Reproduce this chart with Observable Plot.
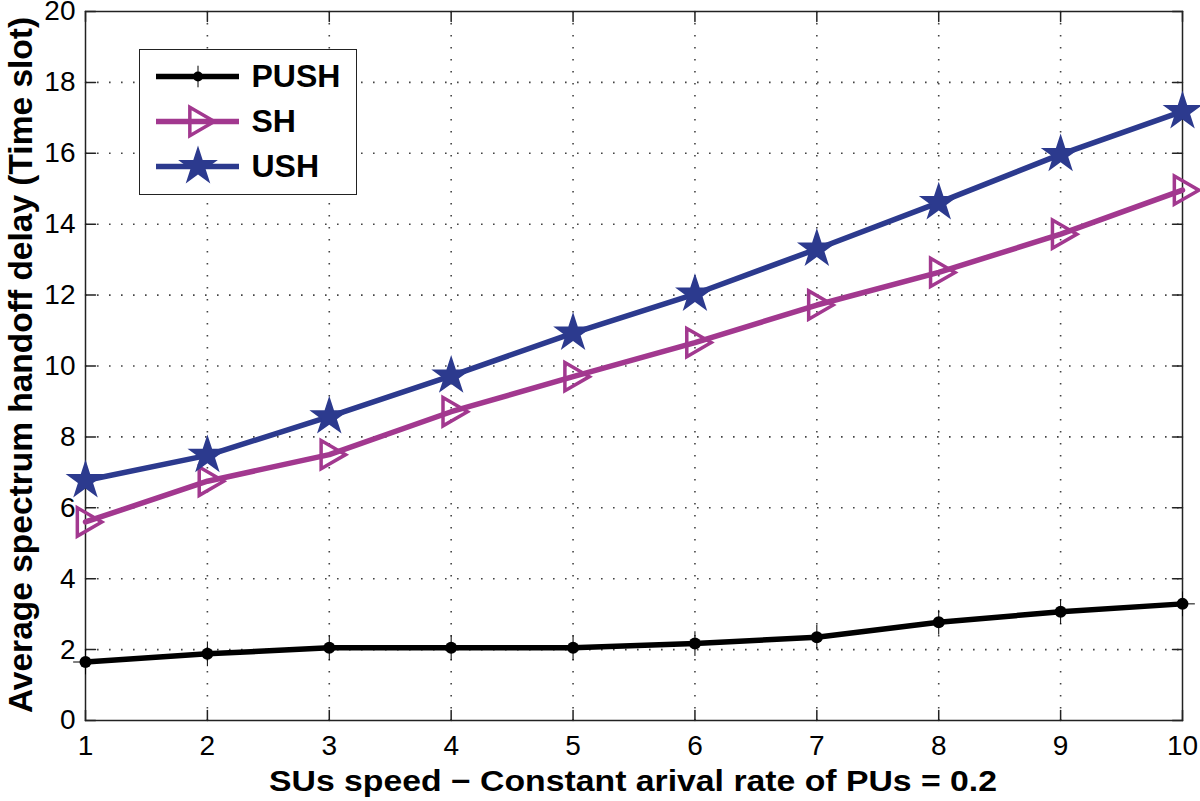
<!DOCTYPE html>
<html><head><meta charset="utf-8">
<script src="https://cdn.jsdelivr.net/npm/d3@7"></script>
<script src="https://cdn.jsdelivr.net/npm/@observablehq/plot@0.6"></script>
<style>
html,body{margin:0;padding:0;background:#fff;}
#wrap{position:relative;width:1200px;height:801px;overflow:hidden;}
#legend{position:absolute;left:139px;top:49px;}
#legend svg{border:1.5px solid #222;background:#fff;display:block;overflow:visible;}
</style></head><body>
<div id="wrap"><div id="chart"></div><div id="legend"></div></div>
<script>
// ---- data ----
const speeds = [1, 2, 3, 4, 5, 6, 7, 8, 9, 10];
const pushDelay = [1.65, 1.88, 2.05, 2.05, 2.05, 2.17, 2.35, 2.77, 3.07, 3.29];
const shDelay   = [5.60, 6.75, 7.50, 8.71, 9.70, 10.66, 11.72, 12.64, 13.72, 14.96];
const ushDelay  = [6.77, 7.48, 8.57, 9.72, 10.93, 12.03, 13.30, 14.61, 15.97, 17.18];
const seriesNames = ["PUSH", "SH", "USH"];
const seriesColors = ["#000000", "#a2388f", "#2c3a8e"];
const xTicks = [1, 2, 3, 4, 5, 6, 7, 8, 9, 10];
const yTicks = [0, 2, 4, 6, 8, 10, 12, 14, 16, 18, 20];
const xLabel = "SUs speed \u2212 Constant arival rate of PUs = 0.2";
const yLabel = "Average spectrum handoff delay (Time slot)";

// ---- tables ----
const valuesBySeries = {PUSH: pushDelay, SH: shDelay, USH: ushDelay};
const rows = seriesNames.flatMap(s => speeds.map((x, i) => ({series: s, x, y: valuesBySeries[s][i]})));
const pushRows = rows.filter(d => d.series === "PUSH");
const shRows = rows.filter(d => d.series === "SH");
const ushRows = rows.filter(d => d.series === "USH");

const font = "'Liberation Sans', Arial, Helvetica, sans-serif";
const tickShape = {draw(ctx, l) { ctx.moveTo(0, 0); ctx.lineTo(0, -l); }};
const tickStyle = {length: 10, anchor: "start", shape: tickShape, stroke: "#222", strokeWidth: 1.5};
const gridStyle = {stroke: "#444", strokeOpacity: 1, strokeWidth: 1.6, strokeDasharray: "1.6,10.4"};
const lineW = 5.5;

const chart = Plot.plot({
  width: 1200, height: 801,
  marginLeft: 85, marginRight: 18, marginTop: 11, marginBottom: 81,
  style: {fontFamily: font, fontSize: "28px", background: "#fff", color: "#000", overflow: "visible"},
  x: {domain: [1, 10]},
  y: {domain: [0, 20]},
  color: {domain: seriesNames, range: seriesColors},
  marks: [
    Plot.gridX(xTicks.slice(1, -1), gridStyle),
    Plot.gridY(yTicks.slice(1, -1), gridStyle),
    Plot.axisX(xTicks, {tickSize: 0, tickPadding: 15, fontSize: 28, label: null, tickFormat: d => String(d)}),
    Plot.axisY(yTicks, {tickSize: 0, tickPadding: 10, fontSize: 28, label: null, tickFormat: d => String(d)}),
    Plot.vector(xTicks, {x: d => d, frameAnchor: "bottom", rotate: 0, ...tickStyle}),
    Plot.vector(xTicks, {x: d => d, frameAnchor: "top", rotate: 180, ...tickStyle}),
    Plot.vector(yTicks, {y: d => d, frameAnchor: "left", rotate: 90, ...tickStyle}),
    Plot.vector(yTicks, {y: d => d, frameAnchor: "right", rotate: -90, ...tickStyle}),
    Plot.frame({stroke: "#222", strokeWidth: 1.5}),
    Plot.line(rows, {x: "x", y: "y", z: "series", stroke: "series", strokeWidth: lineW, strokeLinejoin: "round"}),
    Plot.dot(pushRows, {x: "x", y: "y", symbol: "plus", r: 8, fill: "series", stroke: "series", strokeWidth: 1}),
    Plot.dot(pushRows, {x: "x", y: "y", symbol: "circle", r: 6, fill: "series"}),
    Plot.dot(shRows, {x: "x", y: "y", symbol: "triangle", rotate: 90, r: 10.5, fill: "none", stroke: "series", strokeWidth: 3.5}),
    Plot.dot(ushRows, {x: "x", y: "y", symbol: "star", r: 12.5, fill: "series"}),
    Plot.text([xLabel], {text: d => d, frameAnchor: "bottom", textAnchor: "middle", lineAnchor: "top", dy: 50, dx: -1, fontSize: 29, fontWeight: "bold", fill: "#000"}),
    Plot.text([yLabel], {text: d => d, frameAnchor: "left", textAnchor: "middle", rotate: -90, lineAnchor: "top", dx: -77, dy: -1, fontSize: 33.5, fontWeight: "bold", fill: "#000"})
  ]
});
document.getElementById("chart").appendChild(chart);
// stretch the x-axis title horizontally like the reference
d3.select(chart).selectAll('g[aria-label="text"] text')
  .filter(function() { return this.textContent === xLabel; })
  .attr("textLength", 728).attr("lengthAdjust", "spacingAndGlyphs");

// ---- legend ----
const legend = Plot.plot({
  width: 216, height: 144,
  marginLeft: 16, marginRight: 117, marginTop: 26, marginBottom: 28,
  style: {fontFamily: font, background: "#fff", overflow: "visible"},
  y: {axis: null, type: "point", domain: seriesNames, padding: 0},
  color: {domain: seriesNames, range: seriesColors},
  marks: [
    Plot.ruleY(seriesNames, {y: d => d, stroke: d => d, strokeWidth: lineW}),
    Plot.dot(seriesNames.filter(s => s === "PUSH"), {y: d => d, symbol: "plus", r: 7, fill: d => d, stroke: d => d, strokeWidth: 1}),
    Plot.dot(seriesNames.filter(s => s === "PUSH"), {y: d => d, symbol: "circle", r: 5, fill: d => d}),
    Plot.dot(seriesNames.filter(s => s === "SH"), {y: d => d, symbol: "triangle", rotate: 90, r: 10.5, fill: "none", stroke: d => d, strokeWidth: 3.5}),
    Plot.dot(seriesNames.filter(s => s === "USH"), {y: d => d, symbol: "star", r: 12.5, fill: d => d}),
    Plot.text(seriesNames, {y: d => d, text: d => d, frameAnchor: "right", dx: 12, textAnchor: "start", fontSize: 32, fontWeight: "bold", fill: "#000"})
  ]
});
document.getElementById("legend").appendChild(legend);
</script>
</body></html>
